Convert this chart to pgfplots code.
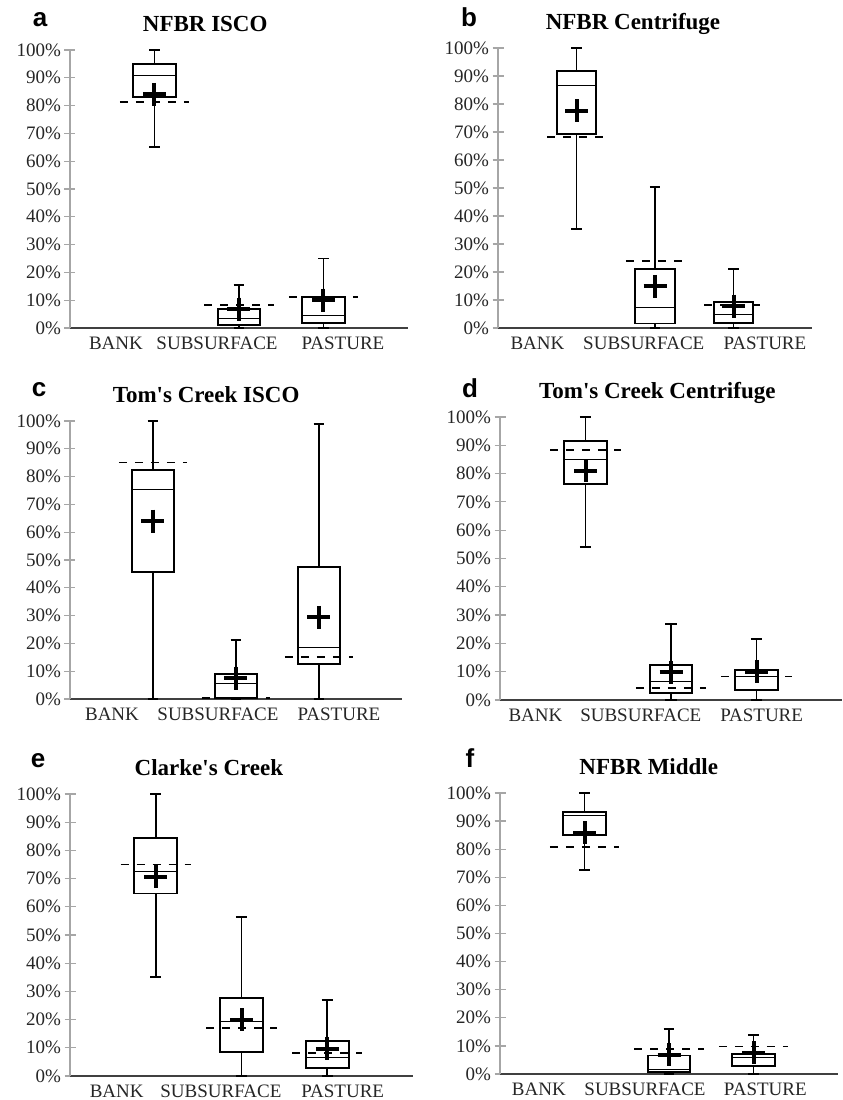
\documentclass[border=0pt]{standalone}
\usepackage{fontspec}
\setmainfont{Liberation Serif}
\newfontfamily\lettfont{Liberation Sans}
\usepackage{pgfplots}
\pgfplotsset{compat=1.18}
\usepgfplotslibrary{statistics}
\definecolor{ygray}{HTML}{A6A6A6}
\definecolor{xgray}{HTML}{404040}
\definecolor{tgray}{HTML}{262626}
\pgfplotsset{
  panel/.style={
    scale only axis, xmin=-1, xmax=3, ymin=0, ymax=100,
    axis x line*=bottom, axis y line*=left,
    x axis line style={draw=xgray, line width=1.6pt},
    y axis line style={draw=ygray, line width=1.2pt},
    ytick={0,10,20,30,40,50,60,70,80,90,100},
    yticklabels={0\%,10\%,20\%,30\%,40\%,50\%,60\%,70\%,80\%,90\%,100\%},
    ytick style={draw=ygray, line width=1.2pt},
    tick align=center,
    major tick length=11pt,
    x tick style={draw=none},
    xticklabels={BANK,SUBSURFACE,PASTURE},
    tick label style={font=\fontsize{19}{22}\selectfont, text=tgray},
    clip=false,
    unbounded coords=jump,
    boxplot/draw direction=y,
    title style={font=\fontsize{23}{26}\selectfont\bfseries, anchor=base, yshift=12pt},
  },
  bp/.style n args={6}{boxplot prepared={draw position=#1, lower whisker=#2,
      lower quartile=#3, median=#4, upper quartile=#5, upper whisker=#6,
      box extend=0.5, whisker extend=0.13},
      draw=black, solid, line width=1.9pt, mark=none,
      boxplot/every box/.style={line width=1.9pt},
      boxplot/every whisker/.style={line width=1.9pt},
      boxplot/every median/.style={line width=1.2pt}},
  meanp/.style={only marks, mark=+, mark size=11.5pt, black, mark options={line width=4pt}},
  dashl/.style={black, line width=1.8pt, dash pattern=on 8pt off 8pt, mark=none},
}
\newcommand{\letter}[3]{\node[anchor=base, xshift=#2, yshift=#3, font=\fontsize{26}{28}\lettfont\bfseries] at (rel axis cs:0,1) {#1};}
\begin{document}
\begin{tikzpicture}
\useasboundingbox (0,0) rectangle (843pt,1100pt);
% ---------- a ----------
\begin{axis}[panel, at={(70pt,772pt)}, anchor=south west, width=338pt, height=278pt,
  xtick={-0.456,0.74,2.23}, title={NFBR ISCO}, title style={at={(0.40,1)}}]
\addplot[bp={0}{65.2}{83.0}{90.9}{95.0}{100}] coordinates {};
\addplot[bp={1}{0}{1.0}{3.4}{6.7}{15.4}] coordinates {};
\addplot[bp={2}{0}{1.8}{4.6}{11.2}{25.0}] coordinates {};
\addplot[dashl] coordinates {(-0.41,81.2) (0.41,81.2) (0.5,nan) (0.59,8.2) (1.41,8.2) (1.5,nan) (1.59,11.2) (2.41,11.2)};
\addplot[meanp] coordinates {(0,84.0) (1,6.8) (2,10.0)};
\letter{a}{-30pt}{23pt}
\end{axis}
% ---------- b ----------
\begin{axis}[panel, at={(498pt,772pt)}, anchor=south west, width=314pt, height=280pt,
  xtick={-0.497,0.857,2.40}, title={NFBR Centrifuge}, title style={at={(0.43,1)}}]
\addplot[bp={0}{35.2}{69.3}{86.6}{91.9}{100}] coordinates {};
\addplot[bp={1}{0}{1.6}{7.3}{21.1}{50.2}] coordinates {};
\addplot[bp={2}{0}{1.8}{4.9}{9.4}{21.1}] coordinates {};
\addplot[dashl] coordinates {(-0.37,68.3) (0.37,68.3) (0.5,nan) (0.63,24.0) (1.37,24.0) (1.5,nan) (1.63,8.1) (2.37,8.1)};
\addplot[meanp] coordinates {(0,77.6) (1,14.9) (2,7.8)};
\letter{b}{-29pt}{21pt}
\end{axis}
% ---------- c ----------
\begin{axis}[panel, at={(70pt,401pt)}, anchor=south west, width=332pt, height=278pt,
  xtick={-0.494,0.783,2.24}, title={Tom\textquotesingle s Creek ISCO}, title style={at={(0.41,1)}}]
\addplot[bp={0}{0}{45.6}{75.4}{82.4}{100}] coordinates {};
\addplot[bp={1}{0}{0.5}{5.6}{9.0}{21.2}] coordinates {};
\addplot[bp={2}{0}{12.6}{18.6}{47.5}{98.9}] coordinates {};
\addplot[dashl] coordinates {(-0.41,85.1) (0.41,85.1) (0.5,nan) (0.59,0.3) (1.41,0.3) (1.5,nan) (1.59,15.2) (2.41,15.2)};
\addplot[meanp] coordinates {(0,64.0) (1,7.4) (2,29.4)};
\letter{c}{-31pt}{24pt}
\end{axis}
% ---------- d ----------
\begin{axis}[panel, at={(500pt,400pt)}, anchor=south west, width=342pt, height=283pt,
  xtick={-0.585,0.647,2.06}, title={Tom\textquotesingle s Creek Centrifuge}, title style={at={(0.46,1)}}]
\addplot[bp={0}{54.0}{76.4}{85.0}{91.5}{100}] coordinates {};
\addplot[bp={1}{0}{2.6}{6.5}{12.4}{26.9}] coordinates {};
\addplot[bp={2}{0}{3.4}{8.3}{10.7}{21.6}] coordinates {};
\addplot[dashl] coordinates {(-0.41,88.3) (0.41,88.3) (0.5,nan) (0.59,4.1) (1.41,4.1) (1.5,nan) (1.59,8.3) (2.41,8.3)};
\addplot[meanp] coordinates {(0,81.0) (1,9.8) (2,10.0)};
\letter{d}{-30pt}{19pt}
\end{axis}
% ---------- e ----------
\begin{axis}[panel, at={(70pt,24pt)}, anchor=south west, width=343pt, height=282pt,
  xtick={-0.455,0.76,2.18}, title={Clarke\textquotesingle s Creek}, title style={at={(0.405,1)}}]
\addplot[bp={0}{35.1}{64.7}{72.4}{84.5}{100}] coordinates {};
\addplot[bp={1}{0}{8.5}{19.4}{27.8}{56.4}] coordinates {};
\addplot[bp={2}{0}{2.8}{6.7}{12.4}{26.9}] coordinates {};
\addplot[dashl] coordinates {(-0.41,75.0) (0.41,75.0) (0.5,nan) (0.59,17.0) (1.41,17.0) (1.5,nan) (1.59,8.2) (2.41,8.2)};
\addplot[meanp] coordinates {(0,70.7) (1,20.0) (2,9.7)};
\letter{e}{-32pt}{26pt}
\end{axis}
% ---------- f ----------
\begin{axis}[panel, at={(500pt,26pt)}, anchor=south west, width=338pt, height=281pt,
  xtick={-0.54,0.716,2.14}, title={NFBR Middle}, title style={at={(0.44,1)}}]
\addplot[bp={0}{72.5}{84.9}{91.9}{93.3}{100}] coordinates {};
\addplot[bp={1}{0}{0.6}{1.5}{6.6}{16.1}] coordinates {};
\addplot[bp={2}{0}{2.7}{5.9}{7.2}{14.0}] coordinates {};
\addplot[dashl] coordinates {(-0.41,80.9) (0.41,80.9) (0.5,nan) (0.59,8.9) (1.41,8.9) (1.5,nan) (1.59,9.8) (2.41,9.8)};
\addplot[meanp] coordinates {(0,85.9) (1,6.9) (2,7.5)};
\letter{f}{-30pt}{25pt}
\end{axis}
\end{tikzpicture}
\end{document}
